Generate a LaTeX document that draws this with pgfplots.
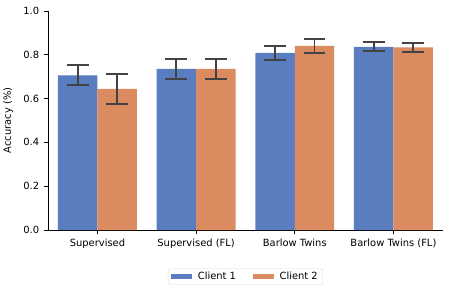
\documentclass[border=0pt]{standalone}
\usepackage{pgfplots}
\pgfplotsset{compat=1.18}
\usepackage{fontspec}
\setmainfont{DejaVu Sans}
\definecolor{cA}{HTML}{597DBF}
\definecolor{cB}{HTML}{DA8B5F}
\definecolor{errc}{HTML}{424242}
\begin{document}
\begin{tikzpicture}
\begin{axis}[
  scale only axis, width=398pt, height=221pt,
  xmin=-0.5, xmax=3.5, ymin=0, ymax=1,
  ybar=0pt, bar width=0.4,
  axis x line*=bottom, axis y line*=left,
  axis line style={line width=0.8pt},
  xtick={0,1,2,3},
  xticklabels={Supervised, Supervised (FL), Barlow Twins, Barlow Twins (FL)},
  ytick={0,0.2,0.4,0.6,0.8,1.0},
  yticklabel style={/tikz/xshift=-1pt, /pgf/number format/.cd, fixed, fixed zerofill, precision=1},
  /pgf/number format/assume math mode=true,
  tick align=outside, major tick length=4.5pt,
  tick style={line width=0.8pt, black},
  ticklabel style={font=\fontsize{10}{12}\selectfont},
  xticklabel style={yshift=-1pt},
  ylabel={Accuracy (\%)},
  ylabel style={font=\fontsize{10}{12}\selectfont, at={(-32pt,0.5)}, anchor=south},
  legend style={at={(0.5,-0.176)}, anchor=north, legend columns=2,
    draw=black!15, rounded corners=2pt, font=\fontsize{10}{12}\selectfont,
    /tikz/every odd column/.append style={column sep=4pt},
    /tikz/every even column/.append style={column sep=15pt},
    inner xsep=3pt, inner ysep=1.5pt},
  legend image code/.code={\fill[#1, sharp corners] (0pt,-2.5pt) rectangle (21pt,2.5pt);},
  error bars/y dir=both, error bars/y explicit,
  error bars/error bar style={line width=2pt, errc},
  error bars/error mark options={rotate=90, mark size=11pt, line width=2pt, errc},
]
\addplot[fill=cA, draw=none] coordinates {
  (0,0.706) +- (0,0.045)
  (1,0.736) +- (0,0.045)
  (2,0.808) +- (0,0.031)
  (3,0.836) +- (0,0.021)
};
\addlegendentry{Client 1}
\addplot[fill=cB, draw=none] coordinates {
  (0,0.644) +- (0,0.068)
  (1,0.736) +- (0,0.045)
  (2,0.840) +- (0,0.031)
  (3,0.834) +- (0,0.020)
};
\addlegendentry{Client 2}
\end{axis}
\path (current axis.south west) +(-44pt,-64pt) coordinate (bl);
\path (current axis.north east) +(7.3pt,11pt) coordinate (tr);
\path (bl) (tr);
\end{tikzpicture}
\end{document}
